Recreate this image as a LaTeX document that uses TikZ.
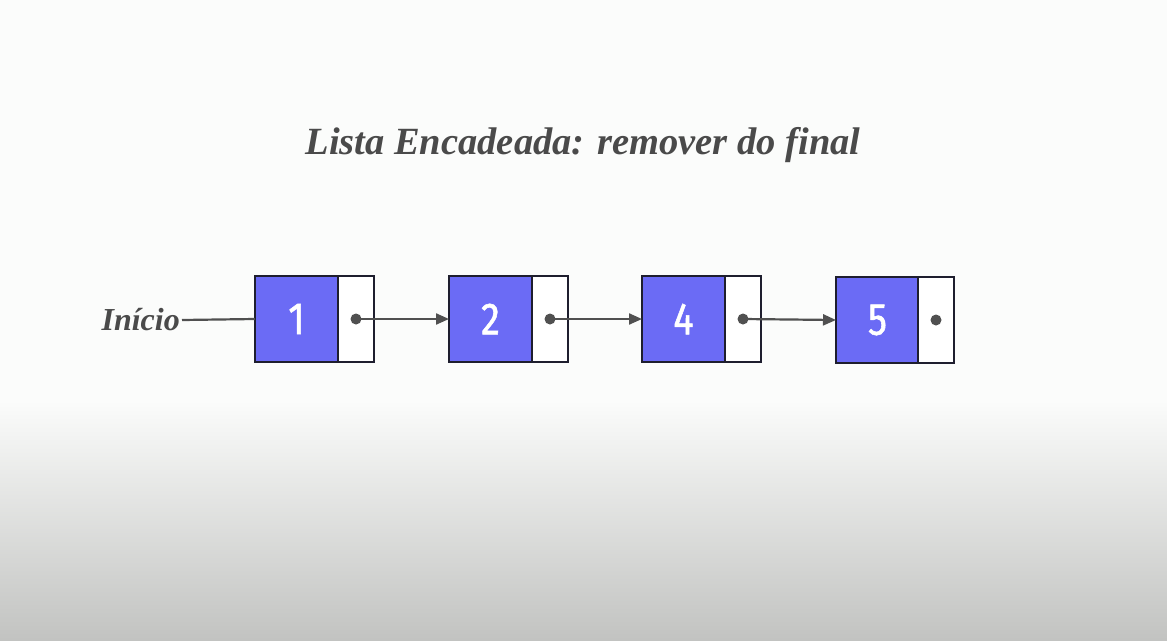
\documentclass[tikz,border=0pt]{standalone}
\usepackage{fontspec}
\setmainfont{Liberation Serif}
\newfontfamily\numfont[FakeStretch=0.84,FakeBold=1.2]{Fira Sans}
\usetikzlibrary{arrows.meta}
\definecolor{nodeblue}{HTML}{6B6BF5}
\definecolor{bgtop}{HTML}{FBFCFB}
\definecolor{bgbot}{HTML}{C2C3C1}
\definecolor{inkgray}{HTML}{4A4A4A}
\definecolor{linkgray}{HTML}{505050}
\definecolor{boxedge}{HTML}{1E1E2E}
\tikzset{
  valbox/.style={draw=boxedge, line width=1.4pt, fill=nodeblue, anchor=north west,
    minimum width=83pt, minimum height=86pt, inner sep=0pt, outer sep=0pt,
    text=white, font=\numfont\fontsize{45}{45}\selectfont},
  ptrbox/.style={draw=boxedge, line width=1.4pt, fill=white, anchor=north west,
    minimum width=36pt, minimum height=86pt, inner sep=0pt, outer sep=0pt},
  ptrdot/.style={circle, fill=linkgray, minimum size=11pt, inner sep=0pt},
  link/.style={draw=linkgray, line width=2.2pt, -{Stealth[length=13pt,width=11pt,inset=0pt]}},
  plainlink/.style={draw=linkgray, line width=2.2pt},
  titletext/.style={text=inkgray, font=\bfseries\itshape\fontsize{38.5}{40}\selectfont},
  labeltext/.style={text=inkgray, font=\bfseries\itshape\fontsize{32}{32}\selectfont}
}
\begin{document}
\begin{tikzpicture}[x=1pt,y=-1pt]
\useasboundingbox (0,0) rectangle (1167,640);
\fill[bgtop] (0,0) rectangle (1167,401);
\shade[top color=bgtop, bottom color=bgbot] (0,400) rectangle (1167,640);

\node[titletext] (title) at (583,145) {Lista Encadeada: remover do final};

\node[valbox] (v1) at (255,276) {1};
\node[ptrbox] (p1) at (338,276) {};
\node[valbox] (v2) at (449,276) {2};
\node[ptrbox] (p2) at (532,276) {};
\node[valbox] (v4) at (642,276) {4};
\node[ptrbox] (p4) at (725,276) {};
\node[valbox] (v5) at (836,277) {5};
\node[ptrbox] (p5) at (918,277) {};

\node[ptrdot] (d1) at (p1.center) {};
\node[ptrdot] (d2) at (p2.center) {};
\node[ptrdot] (d4) at (p4.center) {};
\node[ptrdot] (d5) at (p5.center) {};

\node[labeltext, anchor=east, inner sep=2pt] (ini) at (182,320) {Início};
\draw[plainlink] (ini.east) -- (v1.west);

\draw[link] (d1.center) -- (v2.west);
\draw[link] (d2.center) -- (v4.west);
\draw[link] (d4.center) -- (v5.west);
\end{tikzpicture}
\end{document}
